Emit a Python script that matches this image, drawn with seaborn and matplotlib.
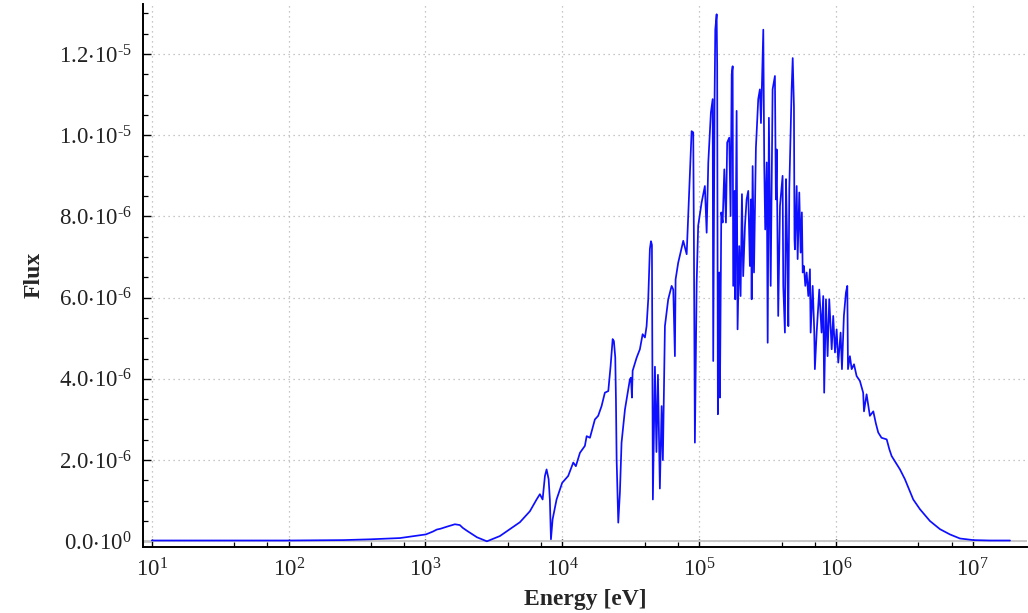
import numpy as np
import pandas as pd
import matplotlib
matplotlib.use("Agg")
import matplotlib.pyplot as plt
import matplotlib.ticker as mticker
import seaborn as sns

# ---- data (log10 of energy in eV, flux in units of 1e-6) ----
log_energy = [
    1.000, 2.000, 2.400, 2.600, 2.813, 3.003, 3.054, 3.083, 3.110, 3.156, 3.215, 3.251, 3.273,
    3.303, 3.376, 3.449, 3.544, 3.617, 3.690, 3.763, 3.812, 3.836, 3.856, 3.873, 3.885, 3.900,
    3.909, 3.917, 3.929, 3.958, 3.999, 4.043, 4.080, 4.099, 4.129, 4.165, 4.178, 4.202, 4.238,
    4.262, 4.287, 4.311, 4.336, 4.353, 4.368, 4.377, 4.387, 4.392, 4.397, 4.409, 4.421, 4.433,
    4.458, 4.494, 4.502, 4.509, 4.514, 4.543, 4.567, 4.587, 4.604, 4.616, 4.628, 4.640, 4.648,
    4.655, 4.662, 4.677, 4.688, 4.699, 4.713, 4.726, 4.735, 4.750, 4.774, 4.799, 4.811, 4.823,
    4.828, 4.847, 4.884, 4.909, 4.920, 4.945, 4.957, 4.962, 4.969, 4.982, 4.993, 5.018, 5.042,
    5.055, 5.067, 5.086, 5.099, 5.103, 5.113, 5.118, 5.128, 5.132, 5.137, 5.147, 5.152, 5.162,
    5.172, 5.184, 5.196, 5.205, 5.220, 5.230, 5.238, 5.245, 5.249, 5.260, 5.264, 5.274, 5.281,
    5.293, 5.303, 5.313, 5.322, 5.335, 5.347, 5.359, 5.371, 5.379, 5.384, 5.391, 5.401, 5.415,
    5.432, 5.444, 5.452, 5.469, 5.476, 5.483, 5.494, 5.501, 5.510, 5.523, 5.537, 5.554, 5.561,
    5.567, 5.578, 5.591, 5.610, 5.615, 5.627, 5.635, 5.644, 5.652, 5.659, 5.676, 5.684, 5.693,
    5.697, 5.700, 5.713, 5.720, 5.732, 5.742, 5.751, 5.757, 5.766, 5.776, 5.786, 5.798, 5.810,
    5.815, 5.830, 5.841, 5.846, 5.859, 5.878, 5.895, 5.907, 5.914, 5.927, 5.939, 5.951, 5.969,
    5.980, 5.993, 6.005, 6.017, 6.034, 6.044, 6.058, 6.073, 6.083, 6.088, 6.102, 6.115, 6.132,
    6.151, 6.175, 6.199, 6.205, 6.224, 6.248, 6.273, 6.292, 6.309, 6.333, 6.371, 6.390, 6.407,
    6.468, 6.504, 6.565, 6.614, 6.687, 6.760, 6.833, 6.906, 7.004, 7.126, 7.272,
]
flux_e6 = [
    0.02, 0.02, 0.03, 0.05, 0.08, 0.17, 0.24, 0.29, 0.31, 0.36, 0.42, 0.40, 0.33,
    0.26, 0.10, 0.00, 0.13, 0.30, 0.47, 0.74, 1.03, 1.16, 1.03, 1.61, 1.77, 1.53,
    1.03, 0.05, 0.54, 1.03, 1.44, 1.61, 1.94, 1.85, 2.18, 2.35, 2.59, 2.55, 3.00,
    3.09, 3.33, 3.66, 3.70, 4.32, 4.98, 4.93, 4.53, 3.50, 2.02, 0.46, 1.20, 2.43,
    3.25, 3.99, 4.03, 3.54, 4.20, 4.52, 4.73, 5.10, 5.02, 5.30, 5.96, 7.20, 7.39,
    7.30, 1.03, 4.30, 2.20, 4.10, 1.30, 3.33, 2.00, 5.30, 5.96, 6.29, 6.20, 4.56,
    6.45, 6.86, 7.40, 7.07, 8.01, 10.10, 10.07, 7.27, 2.43, 6.37, 7.77, 8.34, 8.75,
    7.60, 9.33, 10.56, 10.89, 4.44, 10.90, 12.60, 12.98, 11.70, 3.13, 6.62, 3.54, 8.10,
    7.85, 9.16, 7.85, 9.82, 9.94, 8.01, 11.50, 11.70, 6.29, 8.63, 5.96, 10.60, 5.22,
    7.27, 6.04, 8.55, 6.53, 7.77, 8.42, 8.63, 6.78, 8.42, 5.96, 9.24, 6.62, 9.69,
    10.89, 11.13, 10.30, 12.60, 9.24, 7.68, 9.33, 4.89, 10.43, 6.29, 11.13, 11.46, 8.42,
    9.65, 5.55, 8.26, 9.00, 6.29, 5.14, 8.92, 7.19, 5.30, 8.67, 11.13, 11.90, 10.70,
    7.44, 7.19, 8.75, 6.95, 8.59, 7.11, 8.10, 6.62, 6.78, 6.29, 6.62, 6.04, 6.70,
    5.14, 6.29, 5.22, 4.24, 5.14, 6.20, 5.14, 6.04, 3.66, 5.96, 4.56, 5.96, 4.73,
    5.55, 4.65, 5.22, 4.40, 5.14, 4.24, 5.55, 6.13, 6.29, 4.24, 4.56, 4.24, 4.36,
    4.07, 3.95, 3.66, 3.20, 3.62, 3.09, 3.20, 2.90, 2.68, 2.55, 2.51, 2.27, 2.10,
    1.77, 1.53, 1.03, 0.79, 0.50, 0.30, 0.17, 0.07, 0.03, 0.02, 0.02,
]

x_tick_exponents = [1, 2, 3, 4, 5, 6, 7]
y_tick_values = [0.0, 2e-6, 4e-6, 6e-6, 8e-6, 1e-5, 1.2e-5]
y_tick_labels = ["0.0", "2.0", "4.0", "6.0", "8.0", "1.0", "1.2"]
y_tick_powers = ["0", "-6", "-6", "-6", "-6", "-5", "-5"]

df = pd.DataFrame({
    "Energy": 10.0 ** np.array(log_energy),
    "Flux": np.array(flux_e6) * 1e-6,
})

sns.set_theme(style="white")
plt.rcParams["font.family"] = ["Liberation Serif", "DejaVu Serif"]
plt.rcParams["mathtext.fontset"] = "custom"
plt.rcParams["mathtext.rm"] = "Liberation Serif"
plt.rcParams["mathtext.it"] = "Liberation Serif:italic"
plt.rcParams["mathtext.bf"] = "Liberation Serif:bold"
plt.rcParams["axes.unicode_minus"] = False

fig = plt.figure(figsize=(10.28, 6.13), dpi=100)
ax = fig.add_axes([0.139, 0.108, 0.860, 0.886])

ax.axhline(0, color="#c8c8c8", lw=1.4, zorder=1)
sns.lineplot(data=df, x="Energy", y="Flux", ax=ax, color="#0f0fff",
             lw=1.25, estimator=None, sort=False, zorder=3)

ax.set_xscale("log")
ax.set_xlim(8.6, 2.49e7)
ax.set_ylim(-0.135e-6, 13.24e-6)

ax.set_xticks([10.0 ** e for e in x_tick_exponents])
ax.set_xticklabels([r"$\mathregular{10^{%d}}$" % e for e in x_tick_exponents])
ax.xaxis.set_minor_locator(mticker.LogLocator(base=10, subs=[4.0, 7.0], numticks=20))
ax.xaxis.set_minor_formatter(mticker.NullFormatter())

ax.set_yticks(y_tick_values)
ax.set_yticklabels([r"$\mathregular{%s{\cdot}10^{%s}}$" % (m, p.replace("-", r"\text{-}"))
                    for m, p in zip(y_tick_labels, y_tick_powers)])
ax.yaxis.set_minor_locator(mticker.MultipleLocator(0.5e-6))

ax.tick_params(axis="both", which="major", direction="in", length=6, width=1.0,
               color="black", labelsize=16.5, pad=8, labelcolor="#222222")
ax.tick_params(axis="both", which="minor", direction="in", length=3.5, width=0.9,
               color="black")
ax.tick_params(axis="x", which="both", bottom=True, top=False)
ax.tick_params(axis="y", which="both", left=True, right=False)

ax.grid(True, which="major", axis="both", color="#b5b5b5", linestyle=(0, (1, 3)), lw=0.9)
ax.set_axisbelow(True)

for side in ["top", "right"]:
    ax.spines[side].set_visible(False)
for side in ["left", "bottom"]:
    ax.spines[side].set_color("black")
    ax.spines[side].set_linewidth(1.4)

ax.set_xlabel("Energy [eV]", fontsize=17, fontweight="bold", labelpad=6)
ax.set_ylabel("Flux", fontsize=17, fontweight="bold", labelpad=10)

fig.savefig("out.png", dpi=100)
